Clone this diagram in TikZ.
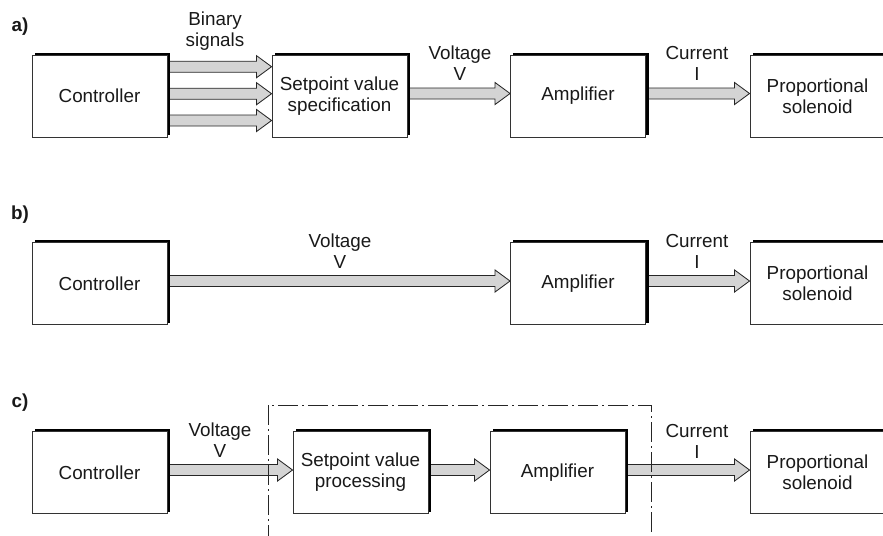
\documentclass[tikz,border=0pt]{standalone}
\usepackage{fontspec}
\setmainfont{Liberation Sans}
\usetikzlibrary{calc,shadows,backgrounds}

\tikzset{
  block/.style={draw=black!80, fill=white, line width=0.6pt, inner sep=1pt,
    minimum width=3.375cm, minimum height=2.05cm, align=center,
    general shadow={fill=black, shadow xshift=0.075cm, shadow yshift=0.05cm}},
  sig/.style={draw=black!85, fill=black!17, line width=0.6pt, line join=miter},
  lbl/.style={align=center, inner sep=0pt},
  tag/.style={font=\fontsize{13.4}{15}\selectfont\bfseries, inner sep=0pt},
  frame/.style={draw=black!85, line width=0.6pt,
    dash pattern=on 0.5cm off 0.1cm on 0.05cm off 0.1cm}
}

% wide signal arrow from #2 to #3, #1 = vertical offset (px)
\newcommand{\sigarrow}[3][-2.5]{%
  \begin{scope}[on background layer]
    \coordinate (s) at ($(#2.east)+(0,#1)$);
    \coordinate (e) at (#3.west |- s);
    \draw[sig] ($(s)+(0,-5.5)$) -- ($(e)+(-15,-5.5)$) -- ++(0,-5.5) -- (e)
      -- ++(-15,11) -- ++(0,-5.5) -- ($(s)+(0,5.5)$) -- cycle;
  \end{scope}}

\begin{document}
\begin{tikzpicture}[x=0.025cm, y=-0.025cm,
  every node/.style={font=\fontsize{13.4}{15}\selectfont, text=black!90}]
  \useasboundingbox (0,0) rectangle (883,535);

  % a) setpoint value specification
  \node[tag] (tagA) at (20,27) {a)};
  \node[block] (ctrlA) at (99.5,96) {Controller};
  \node[block] (specA) at (339.5,96) {Setpoint value\\specification};
  \node[block] (ampA) at (578,96) {Amplifier};
  \node[block] (solA) at (817.5,96) {Proportional\\solenoid};
  \sigarrow[-29.3]{ctrlA}{specA}
  \sigarrow[-2.3]{ctrlA}{specA}
  \sigarrow[24.5]{ctrlA}{specA}
  \sigarrow{specA}{ampA}
  \sigarrow{ampA}{solA}
  \node[lbl] (binA) at (215,31) {Binary\\signals};
  \node[lbl] (voltA) at (460,63) {Voltage\\V};
  \node[lbl] (currA) at (697,63) {Current\\I};

  % b) direct voltage
  \node[tag] (tagB) at (20,215) {b)};
  \node[block] (ctrlB) at (99.5,283.5) {Controller};
  \node[block] (ampB) at (578,283.5) {Amplifier};
  \node[block] (solB) at (817.5,283.5) {Proportional\\solenoid};
  \sigarrow{ctrlB}{ampB}
  \sigarrow{ampB}{solB}
  \node[lbl] (voltB) at (340,251) {Voltage\\V};
  \node[lbl] (currB) at (697,251) {Current\\I};

  % c) setpoint value processing
  \node[tag] (tagC) at (20,403) {c)};
  \node[block] (ctrlC) at (99.5,472.5) {Controller};
  \node[block] (procC) at (360.5,472.5) {Setpoint value\\processing};
  \node[block] (ampC) at (557.5,472.5) {Amplifier};
  \node[block] (solC) at (817.5,472.5) {Proportional\\solenoid};
  \sigarrow{ctrlC}{procC}
  \sigarrow{procC}{ampC}
  \sigarrow{ampC}{solC}
  \node[lbl] (voltC) at (220,440) {Voltage\\V};
  \node[lbl] (currC) at (697,441) {Current\\I};
  \draw[frame] (268,545) -- (268,405) -- (651,405) -- (651,545);
\end{tikzpicture}
\end{document}
